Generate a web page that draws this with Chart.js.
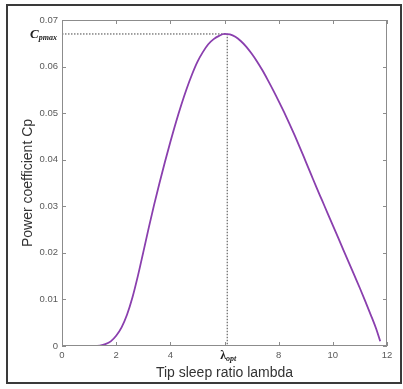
<!DOCTYPE html>
<html>
<head>
<meta charset="utf-8">
<script src="https://cdn.jsdelivr.net/npm/chart.js@4/dist/chart.umd.min.js"></script>
<style>
  html, body { margin: 0; padding: 0; background: #fff; }
  #wrap { position: relative; width: 403px; height: 389px; }
  #frame { position: absolute; left: 6px; top: 4px; width: 392px; height: 376px; border: 2px solid #3a3a3a; pointer-events: none; }
</style>
</head>
<body>
<div id="wrap">
  <canvas id="cp-chart" width="403" height="389"></canvas>
  <div id="frame"></div>
</div>
<script>
'use strict';

// Tip speed ratio (lambda) and power coefficient
const lambda = [0, 0.6, 1.2, 1.4, 1.6, 1.8, 2.0, 2.2, 2.4, 2.6, 2.8, 3.0, 3.2, 3.4, 3.6, 3.8, 4.0,
  4.2, 4.4, 4.6, 4.8, 5.0, 5.2, 5.4, 5.6, 5.8, 6.0, 6.2, 6.4, 6.6, 6.8, 7.0, 7.2, 7.4, 7.6, 7.8,
  8.0, 8.2, 8.4, 8.6, 8.8, 9.0, 9.2, 9.4, 9.6, 9.8, 10.0, 10.2, 10.4, 10.6, 10.8, 11.0, 11.2,
  11.4, 11.6, 11.75];
const cp = [0, 0, 0, 0.0001, 0.0004, 0.0010, 0.0022, 0.0040, 0.0067, 0.0104, 0.0150, 0.0201,
  0.0253, 0.0303, 0.0350, 0.0395, 0.0438, 0.0479, 0.0517, 0.0552, 0.0583, 0.0610, 0.0631,
  0.0648, 0.0659, 0.0666, 0.0670, 0.0669, 0.0664, 0.0655, 0.0643, 0.0628, 0.0611, 0.0592,
  0.0571, 0.0549, 0.0526, 0.0502, 0.0477, 0.0451, 0.0424, 0.0396, 0.0368, 0.0340, 0.0313,
  0.0286, 0.0259, 0.0232, 0.0205, 0.0178, 0.0151, 0.0124, 0.0096, 0.0067, 0.0037, 0.0010];

const lambdaOpt = 6.1;
const cpMax = 0.067;
const xTicks = [0, 2, 4, 6, 8, 10, 12];
const yTicks = [0, 0.01, 0.02, 0.03, 0.04, 0.05, 0.06, 0.07];

const PURPLE = '#8a3fae';
const TICK_GREY = '#5a5a5a';
const SERIF = '"Liberation Serif", "Times New Roman", serif';

// MATLAB-like box: grey frame, inward ticks, subscript labels for Cpmax / lambda_opt
const matlabBox = {
  id: 'matlabBox',
  afterDraw(chart) {
    const { ctx, chartArea: a, scales: { x, y } } = chart;
    ctx.save();
    ctx.strokeStyle = '#8c8c8c';
    ctx.lineWidth = 1;
    ctx.strokeRect(a.left + 0.5, a.top + 0.5, a.right - a.left - 1, a.bottom - a.top - 1);
    ctx.beginPath();
    xTicks.forEach(v => {
      const px = Math.round(x.getPixelForValue(v)) + 0.5;
      ctx.moveTo(px, a.bottom); ctx.lineTo(px, a.bottom - 4);
      ctx.moveTo(px, a.top); ctx.lineTo(px, a.top + 4);
    });
    yTicks.forEach(v => {
      const py = Math.round(y.getPixelForValue(v)) + 0.5;
      ctx.moveTo(a.left, py); ctx.lineTo(a.left + 4, py);
      ctx.moveTo(a.right, py); ctx.lineTo(a.right - 4, py);
    });
    ctx.stroke();

    ctx.fillStyle = '#222';
    ctx.textBaseline = 'middle';
    // C_pmax on the y axis
    const cy = y.getPixelForValue(cpMax) + 1;
    ctx.font = 'italic bold 8px ' + SERIF;
    const w1 = ctx.measureText('pmax').width;
    ctx.textAlign = 'right';
    const rx = a.left - 5;
    ctx.fillText('pmax', rx, cy + 3);
    ctx.font = 'italic bold 13px ' + SERIF;
    ctx.fillText('C', rx - w1, cy);
    // lambda_opt on the x axis
    const lx = x.getPixelForValue(lambdaOpt) + 1;
    const ly = a.bottom + 10;
    ctx.font = 'bold 12px ' + SERIF;
    const wl = ctx.measureText('λ').width;
    ctx.font = 'italic bold 8px ' + SERIF;
    const ws = ctx.measureText('opt').width;
    const start = lx - (wl + ws) / 2;
    ctx.textAlign = 'left';
    ctx.fillText('opt', start + wl, ly + 3);
    ctx.font = 'bold 12px ' + SERIF;
    ctx.fillText('λ', start, ly);
    ctx.restore();
  }
};

new Chart(document.getElementById('cp-chart'), {
  type: 'line',
  data: {
    datasets: [
      {
        label: 'Cp',
        data: lambda.map((l, i) => ({ x: l, y: cp[i] })),
        borderColor: PURPLE,
        borderWidth: 1.8,
        pointRadius: 0,
        cubicInterpolationMode: 'monotone',
        fill: false,
        order: 1,
      },
      {
        label: 'optimum',
        data: [{ x: 0, y: cpMax }, { x: lambdaOpt, y: cpMax }, { x: lambdaOpt, y: 0 }],
        borderColor: '#444',
        borderWidth: 1,
        borderDash: [1.5, 1.5],
        pointRadius: 0,
        tension: 0,
        fill: false,
        order: 2,
      },
    ],
  },
  options: {
    responsive: false,
    animation: false,
    events: [],
    layout: { padding: { left: 0, top: 20, right: 16, bottom: 0 } },
    plugins: { legend: { display: false }, tooltip: { enabled: false } },
    scales: {
      x: {
        type: 'linear', min: 0, max: 12,
        afterBuildTicks: s => { s.ticks = xTicks.map(v => ({ value: v })); },
        afterFit: s => { s.height = 43; },
        grid: { display: false, drawTicks: false },
        border: { display: false },
        ticks: {
          color: TICK_GREY, padding: 4, maxRotation: 0, autoSkip: false,
          font: { family: 'Arial, "Liberation Sans"', size: 9.5 },
          callback: v => (v === 6 ? '' : String(v)),
        },
        title: {
          display: true, text: 'Tip sleep ratio lambda', color: '#333',
          font: { family: 'Arial, "Liberation Sans"', size: 14 },
          padding: { top: 0, bottom: 7 },
        },
      },
      y: {
        type: 'linear', min: 0, max: 0.07,
        afterBuildTicks: s => { s.ticks = yTicks.map(v => ({ value: v })); },
        afterFit: s => { s.width = 62; },
        grid: { display: false, drawTicks: false },
        border: { display: false },
        ticks: {
          color: TICK_GREY, padding: 4, autoSkip: false,
          font: { family: 'Arial, "Liberation Sans"', size: 9.5 },
          callback: v => (v === 0 ? '0' : v.toFixed(2)),
        },
        title: {
          display: true, text: 'Power coefficient Cp', color: '#333',
          font: { family: 'Arial, "Liberation Sans"', size: 14 },
          padding: { top: 20, bottom: 0 },
        },
      },
    },
  },
  plugins: [matlabBox],
});
</script>
</body>
</html>
